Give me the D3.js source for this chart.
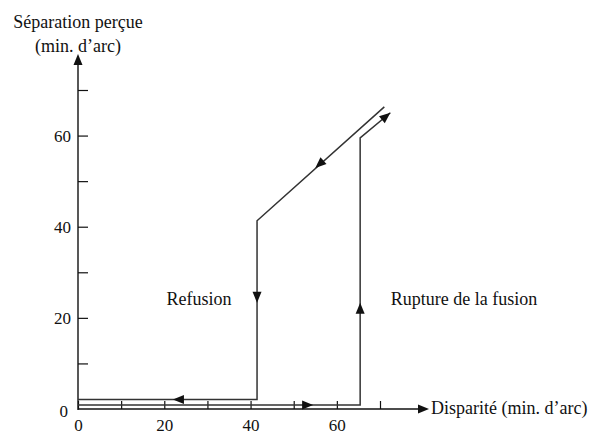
<!DOCTYPE html>
<html>
<head>
<meta charset="utf-8">
<script src="https://cdn.jsdelivr.net/npm/d3@7"></script>
<style>
  body { margin: 0; background: #fff; }
</style>
</head>
<body>
<div id="chart"></div>
<script>
// Data (disparité, séparation perçue), in min. d'arc
const refusionPath = [[71, 66.3], [41.5, 41.3], [41.5, 2.1], [0, 2.1]];
const rupturePath = [[0, 0.9], [65.4, 0.9], [65.4, 59.5], [72.4, 65]];
// arrows: segment index + point on that segment
const refusionArrows = [{ seg: 0, at: [55, 52.9] }, { seg: 1, at: [41.5, 23.3] }, { seg: 2, at: [22, 2.1] }];
const ruptureArrows = [{ seg: 0, at: [54.5, 0.9] }, { seg: 1, at: [65.4, 23.3] }, { seg: 2, at: [72.4, 65] }];
const xTicks = [0, 10, 20, 30, 40, 50, 60, 70];
const yTicks = [10, 20, 30, 40, 50, 60, 70];
const labelTicks = [0, 20, 40, 60];
const pathLabels = [
  { text: 'Refusion', at: [20.5, 22.8] },
  { text: 'Rupture de la fusion', at: [72.5, 22.8] }
];

const width = 592, height = 435;
const serif = '"Liberation Serif"';

const svg = d3.select('#chart')
  .append('svg')
    .attr('width', width)
    .attr('height', height)
    .attr('font-family', serif)
    .attr('font-size', 17);

// scales
const x = d3.scaleLinear().domain([0, 70]).range([78, 380]);
const y = d3.scaleLinear().domain([0, 70]).range([409, 90]);

const arrowShape = 'M0,0 L-11,-4.5 L-11,4.5 Z';

// X axis: ticks pointing up, labels below
const xAxis = svg.append('g')
  .attr('transform', `translate(0,${y(0)})`)
  .call(d3.axisBottom(x).tickValues(xTicks).tickSize(-8)
    .tickFormat(d => labelTicks.includes(d) ? d : ''));
xAxis.attr('font-family', serif).attr('font-size', 17);
xAxis.select('.domain').remove();
xAxis.selectAll('line').attr('stroke', '#111').attr('stroke-width', 1.2);
xAxis.selectAll('text').attr('y', 22).attr('dy', 0).attr('fill', '#111');

// Y axis: ticks pointing right
const yAxis = svg.append('g')
  .attr('transform', `translate(${x(0)},0)`)
  .call(d3.axisLeft(y).tickValues(yTicks).tickSize(-10)
    .tickFormat(d => labelTicks.includes(d) ? d : ''));
yAxis.attr('font-family', serif).attr('font-size', 17);
yAxis.select('.domain').remove();
yAxis.selectAll('line').attr('stroke', '#111').attr('stroke-width', 1.2);
yAxis.selectAll('text').attr('x', -7).attr('fill', '#111');

// y "0" label
svg.append('text')
  .attr('x', x(0) - 10)
  .attr('y', y(0) + 8)
  .attr('text-anchor', 'end')
  .attr('fill', '#111')
  .text('0');

// axis lines with arrow heads
svg.append('line')
  .attr('x1', x(0)).attr('y1', y(0))
  .attr('x2', 420).attr('y2', y(0))
  .attr('stroke', '#111').attr('stroke-width', 1.4);
svg.append('path')
  .attr('d', arrowShape)
  .attr('transform', `translate(429,${y(0)})`)
  .attr('fill', '#111');

svg.append('line')
  .attr('x1', x(0)).attr('y1', y(0) + 1)
  .attr('x2', x(0)).attr('y2', 62)
  .attr('stroke', '#111').attr('stroke-width', 1.4);
svg.append('path')
  .attr('d', arrowShape)
  .attr('transform', `translate(${x(0)},54) rotate(-90)`)
  .attr('fill', '#111');

// axis titles
svg.append('text')
  .attr('x', 431)
  .attr('y', y(0) + 5)
  .attr('fill', '#111')
  .attr('font-size', 18)
  .text('Disparité (min. d’arc)');

const yTitle = svg.append('text')
  .attr('text-anchor', 'middle')
  .attr('fill', '#111')
  .attr('font-size', 18);
yTitle.append('tspan').attr('x', 78).attr('y', 28).text('Séparation perçue');
yTitle.append('tspan').attr('x', 78).attr('y', 52).text('(min. d’arc)');

// hysteresis paths
const line = d3.line().x(d => x(d[0])).y(d => y(d[1]));

function drawPath(points, arrows) {
  svg.append('path')
    .datum(points)
    .attr('d', line)
    .attr('fill', 'none')
    .attr('stroke', '#333')
    .attr('stroke-width', 1.5);

  svg.selectAll(null)
    .data(arrows)
    .enter()
    .append('path')
      .attr('d', arrowShape)
      .attr('fill', '#111')
      .attr('transform', d => {
        const a = points[d.seg], b = points[d.seg + 1];
        const ang = Math.atan2(y(b[1]) - y(a[1]), x(b[0]) - x(a[0])) * 180 / Math.PI;
        return `translate(${x(d.at[0])},${y(d.at[1])}) rotate(${ang})`;
      });
}

drawPath(refusionPath, refusionArrows);
drawPath(rupturePath, ruptureArrows);

// path labels
svg.selectAll('.plabel')
  .data(pathLabels)
  .enter()
  .append('text')
    .attr('class', 'plabel')
    .attr('x', d => x(d.at[0]))
    .attr('y', d => y(d.at[1]))
    .attr('fill', '#111')
    .attr('font-size', 18)
    .text(d => d.text);
</script>
</body>
</html>
